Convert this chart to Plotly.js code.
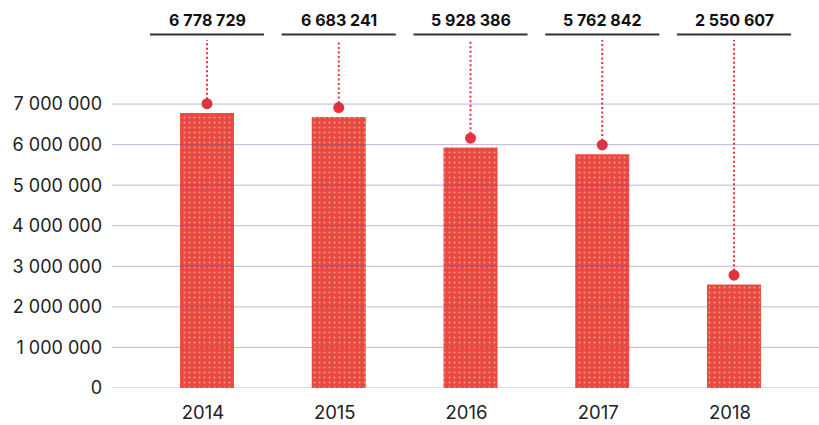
<!DOCTYPE html>
<html>
<head>
<meta charset="utf-8">
<script src="https://cdn.plot.ly/plotly-3.0.1.min.js"></script>
<style>
  html, body { margin: 0; padding: 0; background: #fff; }
  #chart { width: 819px; height: 425px; }
</style>
</head>
<body>
<div id="chart"></div>
<script>
const years = ['2014', '2015', '2016', '2017', '2018'];
const totals = [6778729, 6683241, 5928386, 5762842, 2550607];
const yTicks = [0, 1000000, 2000000, 3000000, 4000000, 5000000, 6000000, 7000000];

// marker dot sits a little above each bar
const dotOffset = 230000;
const yMax = 8580000;

const red = '#e9493f';
const dotRed = '#e3323b';

function spaced(n) {
    return n.toLocaleString('en-US').replace(/,/g, ' ');
}

const bars = {
    x: years,
    y: totals,
    type: 'bar',
    marker: {
        color: red,
        line: {width: 0},
        pattern: {shape: '.', bgcolor: red, fgcolor: '#f39a92', size: 5, solidity: 0.12}
    },
    hoverinfo: 'skip'
};

const stemX = [];
const stemY = [];
years.forEach((yr, i) => {
    stemX.push(yr, yr, null);
    stemY.push(totals[i] + dotOffset, yMax, null);
});

const stems = {
    x: stemX,
    y: stemY,
    type: 'scatter',
    mode: 'lines',
    line: {color: dotRed, width: 2, dash: '2px,2.5px'},
    cliponaxis: false,
    hoverinfo: 'skip'
};

const dots = {
    x: years,
    y: totals.map(v => v + dotOffset),
    type: 'scatter',
    mode: 'markers',
    marker: {color: dotRed, size: 11},
    cliponaxis: false,
    hoverinfo: 'skip'
};

const gridShapes = yTicks.map(v => ({
    type: 'line', xref: 'paper', x0: 0, x1: 1, yref: 'y', y0: v, y1: v,
    layer: 'above',
    line: {color: 'rgba(110,80,165,0.42)', width: 1}
}));

const underlines = years.map((yr, i) => ({
    type: 'line', xref: 'x', x0: i - 0.433, x1: i + 0.433,
    yref: 'paper', y0: 1.016, y1: 1.016,
    line: {color: '#333333', width: 2}
}));

const labels = years.map((yr, i) => ({
    x: i, xref: 'x', y: 1.057, yref: 'paper', yanchor: 'middle',
    text: '<b>' + spaced(totals[i]) + '</b>',
    showarrow: false,
    font: {family: 'Inter, sans-serif', size: 16, color: '#111'}
}));

const layout = {
    width: 819,
    height: 425,
    margin: {t: 40, b: 37, l: 112, r: 0},
    paper_bgcolor: '#fff',
    plot_bgcolor: '#fff',
    showlegend: false,
    bargap: 0.59,
    font: {family: 'Inter, sans-serif', color: '#222'},
    xaxis: {
        type: 'category',
        range: [-0.721, 4.645],
        showgrid: false,
        zeroline: false,
        showline: false,
        ticks: '',
        ticklabelstandoff: 11,
        ticklabelshift: -4,
        tickfont: {size: 18.5, color: '#222'}
    },
    yaxis: {
        range: [0, yMax],
        tickvals: yTicks,
        ticktext: yTicks.map(spaced),
        showgrid: false,
        zeroline: false,
        showline: false,
        ticks: '',
        ticklabelstandoff: 9,
        tickfont: {size: 18, color: '#222'}
    },
    shapes: gridShapes.concat(underlines),
    annotations: labels
};

Plotly.newPlot('chart', [bars, stems, dots], layout, {displayModeBar: false, staticPlot: true});
</script>
</body>
</html>
